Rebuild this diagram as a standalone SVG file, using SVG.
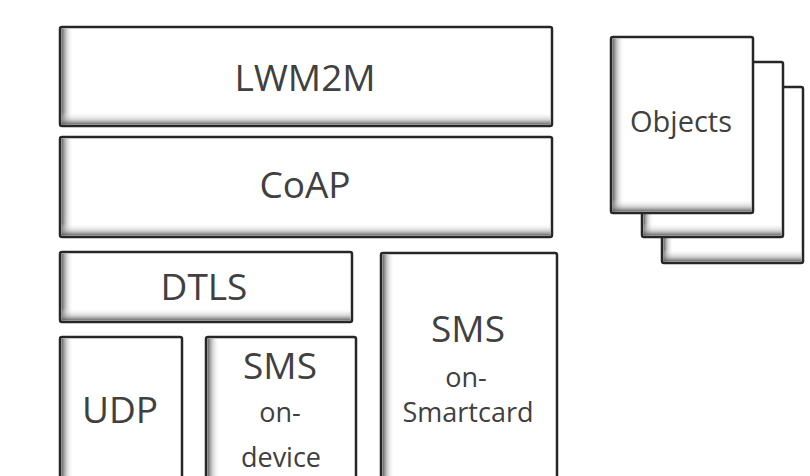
<svg xmlns="http://www.w3.org/2000/svg" width="810" height="476" viewBox="0 0 810 476">
<defs>
<linearGradient id="gl" x1="0" y1="0" x2="1" y2="0">
<stop offset="0" stop-color="#555555" stop-opacity="0.95"/>
<stop offset="0.4" stop-color="#999999" stop-opacity="0.5"/>
<stop offset="1" stop-color="#ffffff" stop-opacity="0"/>
</linearGradient>
<linearGradient id="gb" x1="0" y1="0" x2="0" y2="1">
<stop offset="0" stop-color="#ffffff" stop-opacity="0"/>
<stop offset="0.6" stop-color="#aaaaaa" stop-opacity="0.5"/>
<stop offset="1" stop-color="#555555" stop-opacity="0.9"/>
</linearGradient>
</defs>
<style>
.box{fill:#ffffff;stroke:#262626;stroke-width:2.5}
.t{font-family:"Open Sans","Noto Sans",sans-serif;fill:#404040;text-anchor:middle}
.big{font-size:37px}
.sm{font-size:27px}
</style>
<rect width="810" height="476" fill="#ffffff"/>

<g id="lwm2m">
<rect class="box" x="60" y="27" width="492" height="99" rx="2"/>
<rect x="61.5" y="28.5" width="12" height="96" fill="url(#gl)"/>
<rect x="61.5" y="112" width="489" height="12.5" fill="url(#gb)"/>
<text class="t big" x="305" y="91">LWM2M</text>
</g>

<g id="coap">
<rect class="box" x="60" y="137" width="492" height="100" rx="2"/>
<rect x="61.5" y="138.5" width="12" height="97" fill="url(#gl)"/>
<rect x="61.5" y="223" width="489" height="12.5" fill="url(#gb)"/>
<text class="t big" x="305" y="198">CoAP</text>
</g>

<g id="dtls">
<rect class="box" x="60" y="252" width="292" height="70" rx="2"/>
<rect x="61.5" y="253.5" width="12" height="67" fill="url(#gl)"/>
<rect x="61.5" y="308" width="289" height="12.5" fill="url(#gb)"/>
<text class="t big" x="204" y="300">DTLS</text>
</g>

<g id="udp">
<rect class="box" x="60" y="337" width="122" height="160" rx="2"/>
<rect x="61.5" y="338.5" width="12" height="157" fill="url(#gl)"/>
<text class="t big" x="120" y="423">UDP</text>
</g>

<g id="sms-device">
<rect class="box" x="206" y="337" width="150" height="160" rx="2"/>
<rect x="207.5" y="338.5" width="12" height="157" fill="url(#gl)"/>
<text class="t big" x="280" y="379">SMS</text>
<text class="t sm" x="280" y="422">on-</text>
<text class="t sm" x="281" y="467">device</text>
</g>

<g id="sms-smartcard">
<rect class="box" x="381" y="253" width="176" height="244" rx="2"/>
<rect x="382.5" y="254.5" width="12" height="241" fill="url(#gl)"/>
<text class="t big" x="468" y="342">SMS</text>
<text class="t sm" x="466" y="387">on-</text>
<text class="t sm" x="468" y="422">Smartcard</text>
</g>

<g id="objects">
<rect class="box" x="662" y="87" width="141" height="176" rx="2"/>
<rect x="663.5" y="88.5" width="10" height="173" fill="url(#gl)"/>
<rect x="663.5" y="249" width="138" height="12.5" fill="url(#gb)"/>
<rect class="box" x="642" y="62" width="141" height="175" rx="2"/>
<rect x="643.5" y="63.5" width="10" height="172" fill="url(#gl)"/>
<rect x="643.5" y="223" width="138" height="12.5" fill="url(#gb)"/>
<rect class="box" x="611" y="37" width="142" height="176" rx="2"/>
<rect x="612.5" y="38.5" width="12" height="173" fill="url(#gl)"/>
<rect x="612.5" y="199" width="139" height="12.5" fill="url(#gb)"/>
<text class="t" style="font-size:29px" x="681" y="132">Objects</text>
</g>

<g id="connectors"></g>
</svg>
